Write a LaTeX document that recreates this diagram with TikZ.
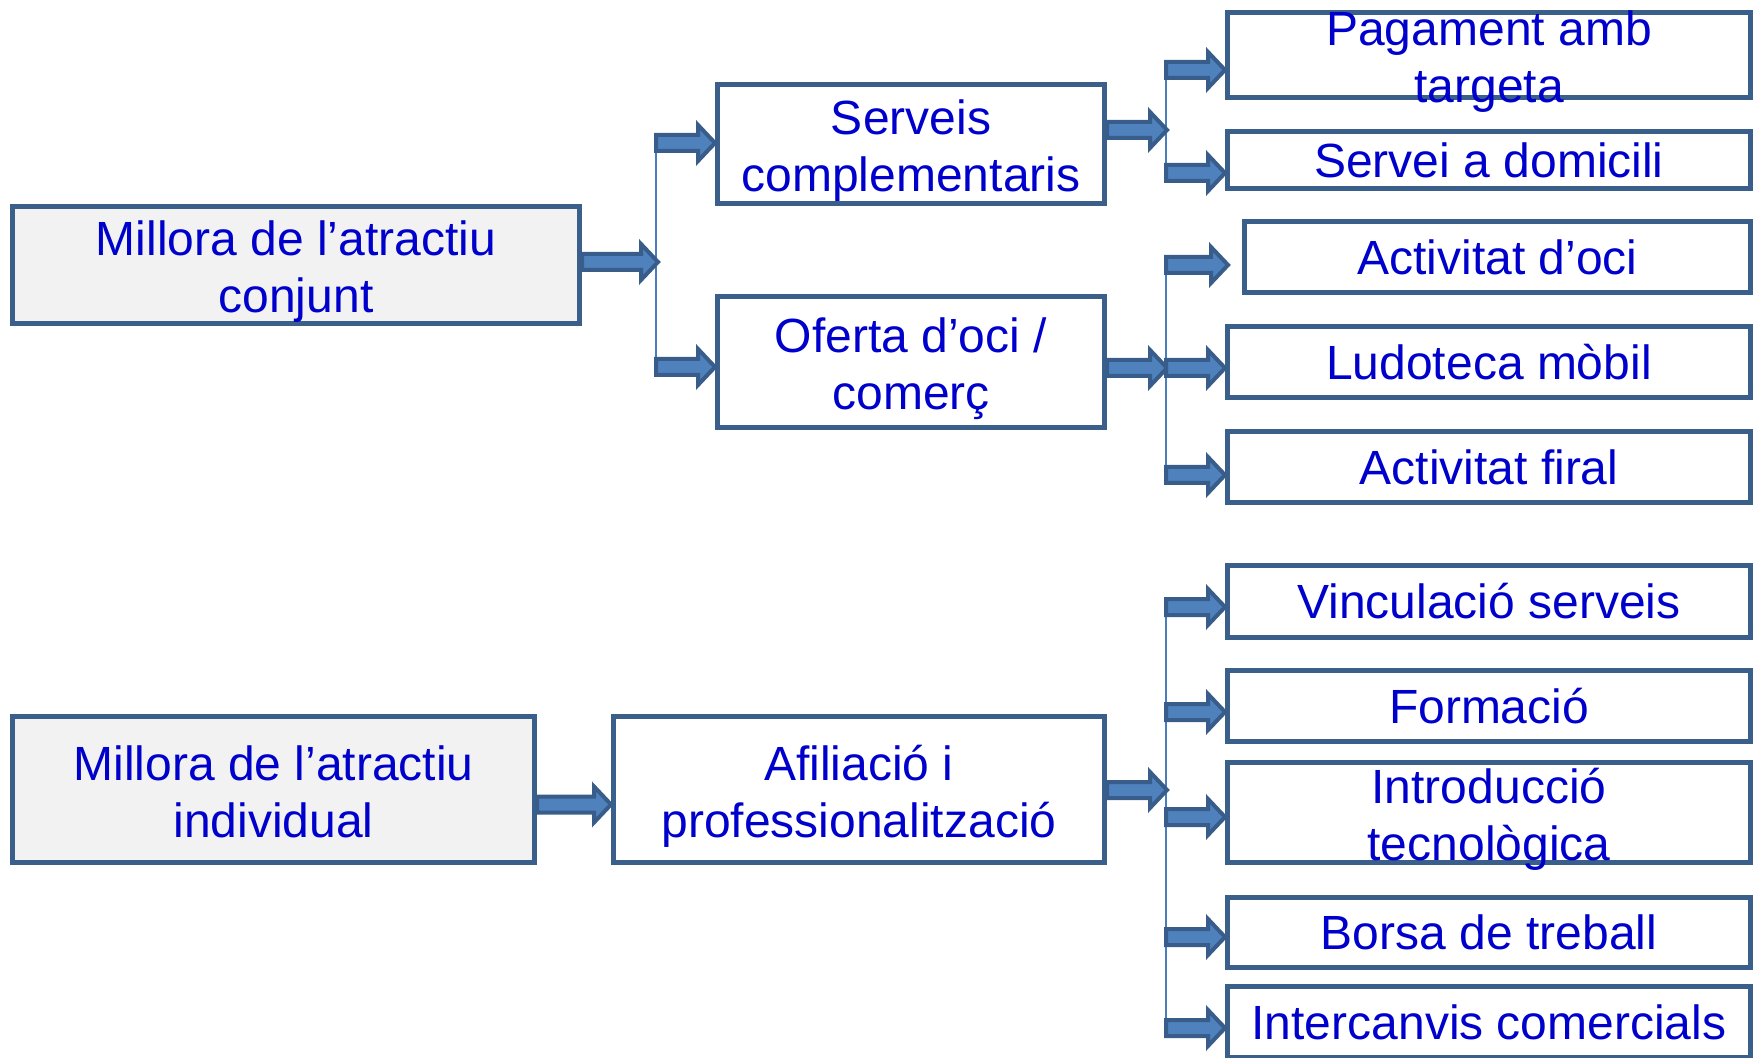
\documentclass[tikz,border=0pt]{standalone}
\usepackage{fontspec}
\setmainfont{Liberation Sans}
\usetikzlibrary{calc}
\definecolor{boxline}{HTML}{3B5F8B}
\definecolor{boxfill}{HTML}{F2F2F2}
\definecolor{arrline}{HTML}{385D8A}
\definecolor{arrfill}{HTML}{4F81BD}
\definecolor{busline}{HTML}{4A7EBB}
\definecolor{txtblue}{HTML}{0000CC}
\def\px{0.5pt}
\def\hai#1#2{\rule{0pt}{24pt}#1\\#2\rule[-5pt]{0pt}{5pt}}
\begin{document}
\begin{tikzpicture}[x=\px,y=-\px,
	txt/.style={text=txtblue,align=center,inner sep=0pt,font=\fontsize{24}{28.5}\selectfont},
	box/.style={txt,draw=boxline,line width=2.5pt,fill=white},
	lbox/.style={box,fill=boxfill},
	bus/.style={draw=busline,line width=1pt},
	blk/.style={draw=arrline,fill=arrfill,line width=2pt,
		to path={let \p1=(\tikztostart), \p2=(\tikztotarget) in
			(\x1,\y1+4pt) -- (\x2-8.5pt,\y1+4pt) -- (\x2-8.5pt,\y1+9pt) -- (\x2,\y1)
			-- (\x2-8.5pt,\y1-9pt) -- (\x2-8.5pt,\y1-4pt) -- (\x1,\y1-4pt) -- cycle}}]
	\useasboundingbox (0,0) rectangle (1755,1058);
	% cac hop
	\node[lbox,minimum width=567*\px,minimum height=117*\px] (con) at (296,265) {\hai{Millora de l’atractiu}{conjunt}};
	\node[box,minimum width=387*\px,minimum height=119*\px] (serv) at (911,144) {\hai{Serveis}{complementaris}};
	\node[box,minimum width=387*\px,minimum height=131*\px] (ofer) at (911,362) {\hai{Oferta d’oci /}{comerç}};
	\node[lbox,minimum width=522*\px,minimum height=146*\px] (ind) at (273.5,789.5) {\hai{Millora de l’atractiu}{individual}};
	\node[box,minimum width=491*\px,minimum height=146*\px] (afil) at (859,789.5) {\hai{Afiliació i}{professionalització}};
	\node[box,minimum width=523*\px,minimum height=85*\px] (pag) at (1489,55) {};
	\node[txt] (pagtxt) at (pag) {\hai{Pagament amb}{targeta}};
	\node[box,minimum width=523*\px,minimum height=57*\px] (dom) at (1489,160) {Servei a domicili};
	\node[box,minimum width=506*\px,minimum height=71*\px] (oci) at (1497.5,257.5) {Activitat d’oci};
	\node[box,minimum width=523*\px,minimum height=71*\px] (lud) at (1489,362.5) {Ludoteca mòbil};
	\node[box,minimum width=523*\px,minimum height=71*\px] (firal) at (1489,467) {Activitat firal};
	\node[box,minimum width=523*\px,minimum height=72*\px] (vinc) at (1489,601.5) {Vinculació serveis};
	\node[box,minimum width=523*\px,minimum height=71*\px] (form) at (1489,706) {Formació};
	\node[box,minimum width=523*\px,minimum height=100*\px] (intro) at (1489,812.5) {};
	\node[txt] (introtxt) at (intro) {\hai{Introducció}{tecnològica}};
	\node[box,minimum width=523*\px,minimum height=70*\px] (bors) at (1489,932.5) {Borsa de treball};
	\node[box,minimum width=523*\px,minimum height=71*\px] (inter) at (1489,1022) {Intercanvis comercials};
	% cac mui ten
	\coordinate (j1) at (658,262);
	\coordinate (bserv) at (656,143);
	\coordinate (bofer) at (656,367);
	\coordinate (j2) at (1167,130);
	\coordinate (j3) at (1167,368);
	\coordinate (j4) at (1167,790);
	\foreach \m/\y in {pag/70,dom/173,oci/265,lud/368,firal/475,vinc/607,form/712,intro/817,bors/937,inter/1028}{
		\coordinate (b\m) at (1166,\y);
		\coordinate (e\m) at (b\m -| \m.west);
	}
	\coordinate (eoci) at ($(boci -| oci.west)+(-14,0)$);
	\coordinate (eserv) at (bserv -| serv.west);
	\coordinate (eofer) at (bofer -| ofer.west);
	\draw[bus] (bserv) -- (bofer) (bpag) -- (bdom) (boci) -- (bfiral) (bvinc) -- (binter);
	\draw[blk] (con.east |- j1) to (j1);
	\draw[blk] (bserv) to (eserv);
	\draw[blk] (bofer) to (eofer);
	\draw[blk] (serv.east |- j2) to (j2);
	\draw[blk] (ofer.east |- j3) to (j3);
	\draw[blk] ([yshift=-7.5pt]ind.east) to ([yshift=-7.5pt]afil.west);
	\draw[blk] (afil.east |- j4) to (j4);
	\foreach \m in {pag,dom,oci,lud,firal,vinc,form,intro,bors,inter}{
		\draw[blk] (b\m) to (e\m);
	}
\end{tikzpicture}
\end{document}
